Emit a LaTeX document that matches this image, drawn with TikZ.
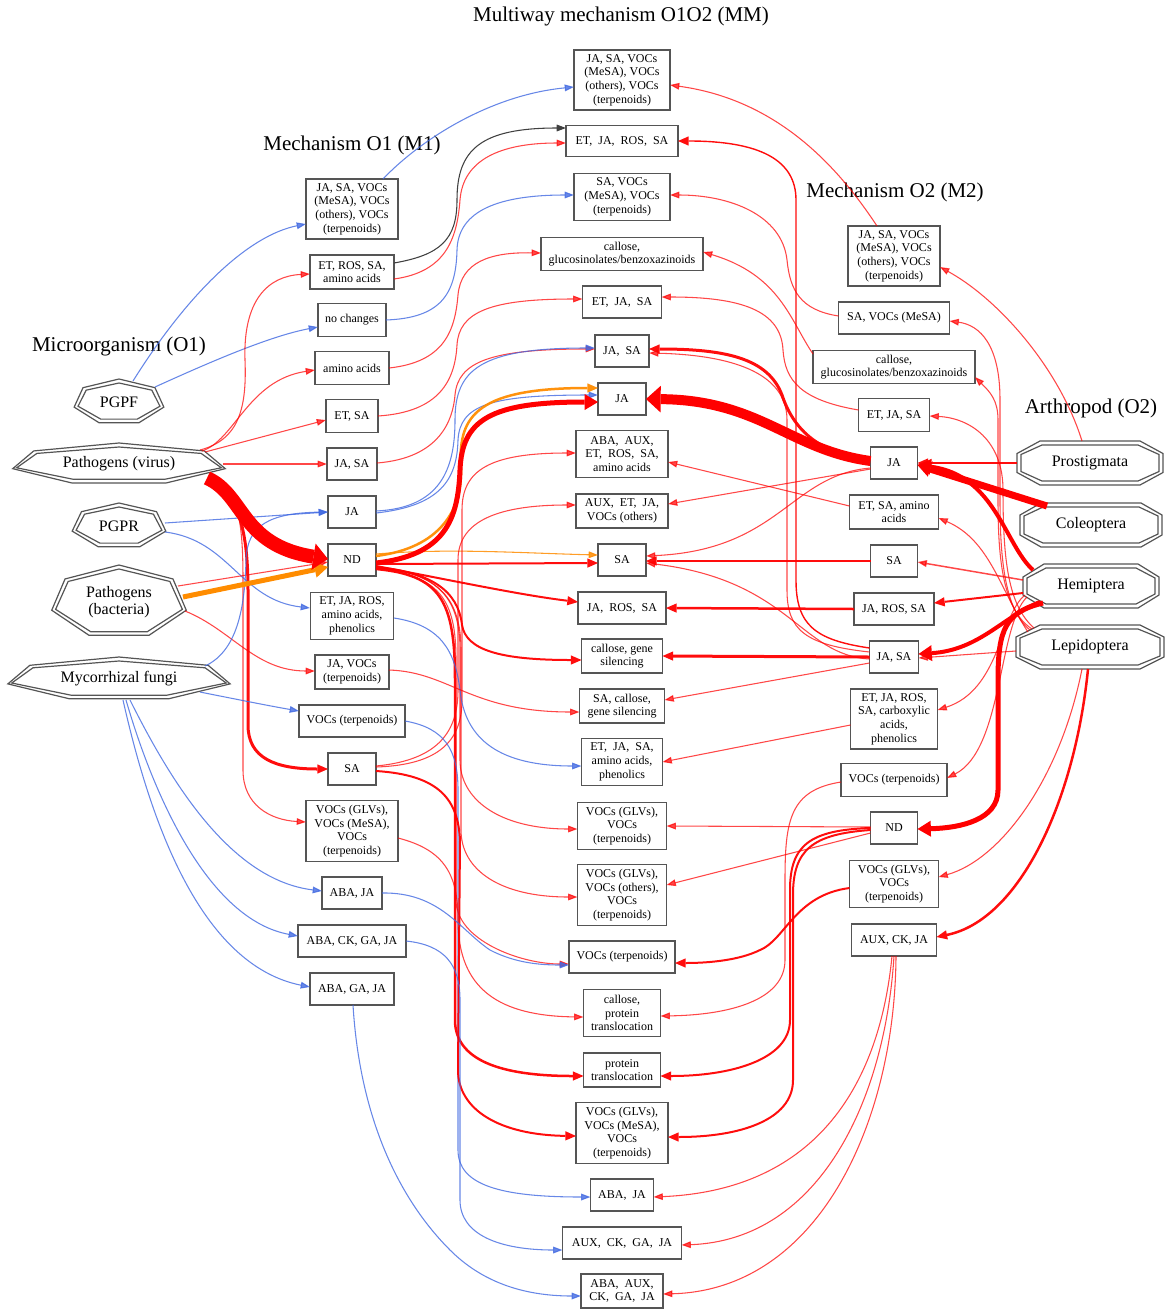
\documentclass[tikz,border=0pt]{standalone}
\usepackage{fontspec}
\setmainfont{Liberation Serif}
\usetikzlibrary{arrows.meta,calc}
\definecolor{edgered}{RGB}{255,0,0}
\definecolor{edgeblue}{RGB}{65,105,225}
\definecolor{edgeorange}{RGB}{255,140,0}
\definecolor{boxline}{RGB}{85,85,85}
\newcommand\boxfont{\fontsize{9}{10.3}\selectfont}
\newcommand\orgfont{\fontsize{12}{13}\selectfont}
\newcommand\titlefont{\fontsize{15.75}{18}\selectfont}
\newcommand\wsp{\ \ }% wide gap between abbreviations
% double heptagon around a named node: #1 name, #2 rx, #3 ry
\newcommand\drawhepta[3]{%
  \foreach \g in {0,4}{%
    \draw[orgline] ($(#1)+(0,{-(#3-\g)})$)
      -- ($(#1)+({0.782*(#2-\g)},{-0.623*(#3-\g)})$)
      -- ($(#1)+({0.975*(#2-\g)},{0.2225*(#3-\g)})$)
      -- ($(#1)+({0.434*(#2-\g)},{0.901*(#3-\g)})$)
      -- ($(#1)+({-0.434*(#2-\g)},{0.901*(#3-\g)})$)
      -- ($(#1)+({-0.975*(#2-\g)},{0.2225*(#3-\g)})$)
      -- ($(#1)+({-0.782*(#2-\g)},{-0.623*(#3-\g)})$) -- cycle;
  }}
% double octagon: #1 name, #2 rx, #3 ry, #4 half top edge, #5 half side edge
\newcommand\drawocto[5]{%
  \foreach \g in {0,4}{%
    \draw[orgline] ($(#1)+({-(#4-\g/2)},{-(#3-\g)})$)
      -- ($(#1)+({#4-\g/2},{-(#3-\g)})$)
      -- ($(#1)+({#2-\g},{-(#5-\g/4)})$)
      -- ($(#1)+({#2-\g},{#5-\g/4})$)
      -- ($(#1)+({#4-\g/2},{#3-\g})$)
      -- ($(#1)+({-(#4-\g/2)},{#3-\g})$)
      -- ($(#1)+({-(#2-\g)},{#5-\g/4})$)
      -- ($(#1)+({-(#2-\g)},{-(#5-\g/4)})$) -- cycle;
  }}
\begin{document}
\begin{tikzpicture}[x=0.75pt,y=-0.75pt,
  box/.style={draw=boxline, line width=1pt, fill=white, inner sep=0pt, align=center, font=\boxfont},
  sz/.style 2 args={minimum width=#1*0.75pt, minimum height=#2*0.75pt},
  org/.style={inner sep=0pt, align=center, font=\orgfont},
  ttl/.style={inner sep=0pt, font=\titlefont},
  orgline/.style={draw=boxline, line width=0.9pt},
  lw/.style={line width=#1*0.75pt},
  edge/.style={line width=0.8pt, -{Triangle[length=7pt,width=5pt]}},
  ered/.style={edge, draw=edgered, opacity=0.72},
  eblue/.style={edge, draw=edgeblue, opacity=0.8},
  eorange/.style={edge, draw=edgeorange, opacity=0.85},
  eblack/.style={edge, draw=black!75},
  tipm/.style={-{Triangle[length=8pt,width=7pt,line width=0pt]}, opacity=0.95},
  tipl/.style={-{Triangle[length=10pt,width=12pt,line width=0pt]}, opacity=1},
  tipxl/.style={-{Triangle[length=11pt,width=20pt,line width=0pt]}, opacity=1}]
\useasboundingbox (0,0) rectangle (1164,1310);

% titles
\node[ttl] (tmm) at (621,16) {Multiway mechanism O1O2 (MM)};
\node[ttl] (tm1) at (352,145) {Mechanism O1 (M1)};
\node[ttl] (tm2) at (895,192) {Mechanism O2 (M2)};
\node[ttl] (to1) at (119,346) {Microorganism (O1)};
\node[ttl] (to2) at (1091,408) {Arthropod (O2)};

% organisms O1
\node[org] (pgpf) at (119,402) {PGPF};
\node[org] (virus) at (119,464) {Pathogens (virus)};
\node[org] (pgpr) at (119,526) {PGPR};
\node[org] (bact) at (119,602) {Pathogens\\(bacteria)};
\node[org] (fungi) at (119,679) {Mycorrhizal fungi};
\drawhepta{pgpf}{46}{23}
\drawhepta{virus}{109}{21}
\drawhepta{pgpr}{48}{23}
\drawhepta{bact}{69}{37}
\drawhepta{fungi}{114}{22}

% organisms O2
\node[org] (prost) at (1090,463) {Prostigmata};
\node[org] (coleo) at (1091,525) {Coleoptera};
\node[org] (hemi) at (1091,586) {Hemiptera};
\node[org] (lepi) at (1090,647) {Lepidoptera};
\drawocto{prost}{73}{22}{50}{9.5}
\drawocto{coleo}{71}{22}{50}{10}
\drawocto{hemi}{68}{22}{47}{9}
\drawocto{lepi}{74}{22}{50}{10}

% mechanisms M1
\node[box, sz={92}{60}] (m1a) at (352,209) {JA, SA, VOCs\\(MeSA), VOCs\\(others), VOCs\\(terpenoids)};
\node[box, sz={84}{34}] (m1b) at (352,272) {ET, ROS, SA,\\amino acids};
\node[box, sz={68}{33}] (m1c) at (352,320) {no changes};
\node[box, sz={74}{33}] (m1d) at (352,368) {amino acids};
\node[box, sz={52}{33}] (m1e) at (352,416) {ET, SA};
\node[box, sz={50}{32}] (m1f) at (352,464) {JA, SA};
\node[box, sz={48}{32}] (m1g) at (352,512) {JA};
\node[box, sz={48}{32}] (m1h) at (352,560) {ND};
\node[box, sz={83}{47}] (m1i) at (352,616) {ET, JA, ROS,\\amino acids,\\phenolics};
\node[box, sz={74}{34}] (m1j) at (352,672) {JA, VOCs\\(terpenoids)};
\node[box, sz={106}{32}] (m1k) at (352,721) {VOCs (terpenoids)};
\node[box, sz={48}{32}] (m1l) at (352,769) {SA};
\node[box, sz={92}{61}] (m1m) at (352,831) {VOCs (GLVs),\\VOCs (MeSA),\\VOCs\\(terpenoids)};
\node[box, sz={60}{32}] (m1n) at (352,893) {ABA, JA};
\node[box, sz={108}{32}] (m1o) at (352,941) {ABA, CK, GA, JA};
\node[box, sz={84}{32}] (m1p) at (352,989) {ABA, GA, JA};

% mechanisms MM
\node[box, sz={96}{60}] (mm1) at (622,80) {JA, SA, VOCs\\(MeSA), VOCs\\(others), VOCs\\(terpenoids)};
\node[box, sz={112}{31}] (mm2) at (622,141) {ET,\wsp JA,\wsp ROS,\wsp SA};
\node[box, sz={96}{47}] (mm3) at (622,197) {SA, VOCs\\(MeSA), VOCs\\(terpenoids)};
\node[box, sz={162}{33}] (mm4) at (622,254) {callose,\\glucosinolates/benzoxazinoids};
\node[box, sz={79}{32}] (mm5) at (622,302) {ET,\wsp JA,\wsp SA};
\node[box, sz={54}{32}] (mm6) at (622,351) {JA,\wsp SA};
\node[box, sz={48}{32}] (mm7) at (622,399) {JA};
\node[box, sz={92}{47}] (mm8) at (622,454) {ABA,\wsp AUX,\\ET,\wsp ROS,\wsp SA,\\amino acids};
\node[box, sz={92}{34}] (mm9) at (622,511) {AUX,\wsp ET,\wsp JA,\\VOCs (others)};
\node[box, sz={48}{32}] (mm10) at (622,560) {SA};
\node[box, sz={88}{32}] (mm11) at (622,608) {JA,\wsp ROS,\wsp SA};
\node[box, sz={81}{34}] (mm12) at (622,656) {callose, gene\\silencing};
\node[box, sz={85}{34}] (mm13) at (622,706) {SA, callose,\\gene silencing};
\node[box, sz={81}{47}] (mm14) at (622,762) {ET,\wsp JA,\wsp SA,\\amino acids,\\phenolics};
\node[box, sz={89}{47}] (mm15) at (622,826) {VOCs (GLVs),\\VOCs\\(terpenoids)};
\node[box, sz={89}{61}] (mm16) at (622,895) {VOCs (GLVs),\\VOCs (others),\\VOCs\\(terpenoids)};
\node[box, sz={106}{32}] (mm17) at (622,957) {VOCs (terpenoids)};
\node[box, sz={77}{47}] (mm18) at (622,1013) {callose,\\protein\\translocation};
\node[box, sz={77}{34}] (mm19) at (622,1070) {protein\\translocation};
\node[box, sz={92}{61}] (mm20) at (622,1133) {VOCs (GLVs),\\VOCs (MeSA),\\VOCs\\(terpenoids)};
\node[box, sz={63}{32}] (mm21) at (622,1195) {ABA,\wsp JA};
\node[box, sz={119}{32}] (mm22) at (622,1243) {AUX,\wsp CK,\wsp GA,\wsp JA};
\node[box, sz={82}{34}] (mm23) at (622,1291) {ABA,\wsp AUX,\\CK,\wsp GA,\wsp JA};

% mechanisms M2
\node[box, sz={92}{60}] (m2a) at (894,256) {JA, SA, VOCs\\(MeSA), VOCs\\(others), VOCs\\(terpenoids)};
\node[box, sz={111}{32}] (m2b) at (894,318) {SA, VOCs (MeSA)};
\node[box, sz={162}{33}] (m2c) at (894,367) {callose,\\glucosinolates/benzoxazinoids};
\node[box, sz={71}{33}] (m2d) at (894,415) {ET, JA, SA};
\node[box, sz={47}{32}] (m2e) at (894,463) {JA};
\node[box, sz={89}{34}] (m2f) at (894,512) {ET, SA, amino\\acids};
\node[box, sz={47}{32}] (m2g) at (894,561) {SA};
\node[box, sz={80}{32}] (m2h) at (894,609) {JA, ROS, SA};
\node[box, sz={49}{32}] (m2i) at (894,657) {JA, SA};
\node[box, sz={87}{60}] (m2j) at (894,719) {ET, JA, ROS,\\SA, carboxylic\\acids,\\phenolics};
\node[box, sz={106}{33}] (m2k) at (894,780) {VOCs (terpenoids)};
\node[box, sz={47}{32}] (m2l) at (894,828) {ND};
\node[box, sz={89}{47}] (m2m) at (894,884) {VOCs (GLVs),\\VOCs\\(terpenoids)};
\node[box, sz={85}{32}] (m2n) at (894,940) {AUX, CK, JA};

% ---------- O1 -> M1 ----------
\draw[eblue] ($(pgpf)+(14,-21)$) .. controls (190,290) and (250,235) .. ($(m1a)+(-46,15)$);
\draw[eblue] ($(pgpf)+(36,-15)$) .. controls (210,362) and (270,336) .. ($(m1c)+(-34,7)$);
\draw[ered] ($(virus)+(81,-14)$) .. controls (238,440) and (247,410) .. (245,360) .. controls (243,300) and (268,276) .. ($(m1b)+(-42,2)$);
\draw[ered] ($(virus)+(83,-13)$) .. controls (235,440) and (248,380) .. ($(m1d)+(-37,2)$);
\draw[ered] ($(virus)+(86,-12)$) -- ($(m1e)+(-26,4)$);
\draw[ered] ($(virus)+(104,0)$) -- ($(m1f)+(-25,0)$);
\draw[ered] ($(virus)+(92,12)$) .. controls (238,490) and (243,520) .. (243,580) -- (243,770) .. controls (243,805) and (270,820) .. ($(m1m)+(-46,-9)$);
\draw[ered, lw=3, tipm] ($(virus)+(92,14)$) .. controls (238,495) and (248,530) .. (248,590) -- (248,725) .. controls (248,758) and (275,769) .. ($(m1l)+(-24,0)$);
\draw[eblue] ($(pgpr)+(46,-3)$) -- ($(m1g)+(-24,0)$);
\draw[eblue] ($(pgpr)+(46,6)$) .. controls (230,540) and (240,600) .. ($(m1i)+(-42,-8)$);
\draw[ered] ($(bact)+(59,-16)$) -- ($(m1h)+(-24,2)$);
\draw[ered] ($(bact)+(66,9)$) .. controls (232,630) and (255,671) .. ($(m1j)+(-37,-1)$);
\draw[eblue] ($(fungi)+(86,-13)$) .. controls (240,650) and (245,600) .. (246,560) .. controls (247,525) and (270,513) .. ($(m1g)+(-24,0)$);
\draw[eblue] ($(fungi)+(81,13)$) .. controls (240,700) and (270,706) .. ($(m1k)+(-53,-10)$);
\draw[eblue] ($(fungi)+(11,21)$) .. controls (170,780) and (230,880) .. ($(m1n)+(-30,-2)$);
\draw[eblue] ($(fungi)+(7,21)$) .. controls (155,800) and (210,920) .. ($(m1o)+(-54,-5)$);
\draw[eblue] ($(fungi)+(4,21)$) .. controls (150,820) and (200,965) .. ($(m1p)+(-42,-2)$);
\draw[eorange, lw=5, tipl] ($(bact)+(64,-5)$) -- ($(m1h)+(-24,7)$);
\draw[ered, lw=14, tipxl] ($(virus)+(88,14)$) .. controls (245,495) and (240,545) .. ($(m1h)+(-24,-1)$);

% ---------- M1 -> MM ----------
\draw[eblue] ($(m1a)+(31,-30)$) .. controls (420,140) and (490,95) .. ($(mm1)+(-48,7)$);
\draw[eblack] ($(m1b)+(42,-9)$) .. controls (440,255) and (457,240) .. (457,200) .. controls (457,150) and (480,128) .. ($(mm2)+(-56,-13)$);
\draw[ered] ($(m1b)+(42,7)$) .. controls (445,272) and (457,240) .. (460,200) .. controls (463,160) and (500,143) .. ($(mm2)+(-56,2)$);
\draw[eblue] ($(m1c)+(34,0)$) .. controls (440,318) and (456,295) .. (457,250) .. controls (458,215) and (490,195) .. ($(mm3)+(-48,-2)$);
\draw[ered] ($(m1d)+(37,0)$) .. controls (445,362) and (455,330) .. (458,295) .. controls (461,262) and (490,252) .. ($(mm4)+(-81,-1)$);
\draw[ered] ($(m1e)+(26,0)$) .. controls (440,412) and (455,380) .. (457,345) .. controls (459,312) and (490,299) .. ($(mm5)+(-39.5,-3)$);
\draw[ered] ($(m1f)+(25,-1)$) .. controls (440,458) and (453,420) .. (455,395) .. controls (458,362) and (490,349) .. ($(mm6)+(-27,-2)$);
\draw[eblue] ($(m1g)+(24,-1)$) .. controls (440,508) and (455,470) .. (455,420) .. controls (455,370) and (480,348) .. ($(mm6)+(-27,-3)$);
\draw[eblue] ($(m1g)+(24,1)$) .. controls (440,506) and (457,480) .. (458,440) .. controls (460,405) and (490,395) .. ($(mm7)+(-24,-4)$);
\draw[eorange] ($(m1h)+(24,-6)$) .. controls (450,548) and (520,553) .. ($(mm10)+(-24,-5)$);
\draw[ered, lw=2, tipm] ($(m1h)+(24,4)$) -- ($(mm10)+(-24,3)$);
\draw[ered, lw=2, tipm] ($(m1h)+(24,6)$) .. controls (450,580) and (520,595) .. ($(mm11)+(-44,-6)$);
\draw[ered, lw=2, tipm] ($(m1h)+(24,7)$) .. controls (430,572) and (458,590) .. (462,625) .. controls (466,650) and (500,660) .. ($(mm12)+(-40.5,4)$);
\draw[ered] ($(m1h)+(24,8)$) .. controls (440,572) and (460,600) .. (460,650) -- (460,760) .. controls (460,800) and (500,829) .. ($(mm15)+(-44.5,3)$);
\draw[ered] ($(m1h)+(24,8)$) .. controls (440,572) and (461,600) .. (461,650) -- (461,830) .. controls (461,870) and (500,897) .. ($(mm16)+(-44.5,2)$);
\draw[ered] ($(m1h)+(24,9)$) .. controls (440,575) and (456,600) .. (456,660) -- (456,900) .. controls (456,940) and (520,964) .. ($(mm17)+(-53,7)$);
\draw[ered, lw=2.5, tipm] ($(m1h)+(24,9)$) .. controls (440,575) and (455,600) .. (455,680) -- (455,1020) .. controls (455,1060) and (500,1076) .. ($(mm19)+(-38.5,6)$);
\draw[ered] ($(m1l)+(24,-2)$) .. controls (440,765) and (462,740) .. (462,700) -- (462,510) .. controls (462,470) and (490,453) .. ($(mm8)+(-46,-1)$);
\draw[ered] ($(m1l)+(24,-3)$) .. controls (440,760) and (458,730) .. (458,690) -- (458,560) .. controls (458,525) and (490,505) .. ($(mm9)+(-46,-6)$);
\draw[eblue] ($(m1i)+(42,2)$) .. controls (440,625) and (455,650) .. (460,690) .. controls (465,740) and (500,766) .. ($(mm14)+(-40.5,4)$);
\draw[ered] ($(m1j)+(37,-2)$) .. controls (450,672) and (470,712) .. ($(mm13)+(-42.5,6)$);
\draw[eblue] ($(m1k)+(53,0)$) .. controls (445,728) and (458,750) .. (458,790) -- (458,1150) .. controls (458,1185) and (500,1197) .. ($(mm21)+(-31.5,2)$);
\draw[ered, lw=2, tipm] ($(m1l)+(24,2)$) .. controls (440,775) and (458,800) .. (460,840) -- (458,1070) .. controls (458,1110) and (500,1135) .. ($(mm20)+(-46,3)$);
\draw[ered] ($(m1m)+(46,7)$) .. controls (445,850) and (458,875) .. (458,920) .. controls (458,990) and (500,1016) .. ($(mm18)+(-38.5,4)$);
\draw[eblue] ($(m1n)+(30,0)$) .. controls (440,892) and (460,930) .. (490,950) .. controls (515,963) and (540,965) .. ($(mm17)+(-53,8)$);
\draw[eblue] ($(m1o)+(54,0)$) .. controls (445,945) and (460,965) .. (460,1000) -- (460,1200) .. controls (460,1235) and (500,1250) .. ($(mm22)+(-59.5,7)$);
\draw[eblue] ($(m1p)+(1,16)$) .. controls (360,1120) and (400,1200) .. (450,1250) .. controls (480,1280) and (520,1296) .. ($(mm23)+(-41,5)$);
\draw[eorange, lw=2.5, tipm] ($(m1h)+(24,-4)$) .. controls (440,548) and (462,510) .. (461,470) .. controls (458,420) and (470,388) .. ($(mm7)+(-24,-11)$);
\draw[ered, lw=5, tipl] ($(m1h)+(24,3)$) .. controls (445,555) and (458,520) .. (460,470) .. controls (462,420) and (490,402) .. ($(mm7)+(-24,3)$);

% ---------- M2 -> MM ----------
\draw[ered] ($(m2a)+(-17,-30)$) .. controls (840,170) and (780,100) .. ($(mm1)+(48,5)$);
\draw[ered] ($(m2b)+(-55.5,-2)$) .. controls (800,310) and (790,290) .. (787,260) .. controls (782,215) and (730,195) .. ($(mm3)+(48,-2)$);
\draw[ered] ($(m2c)+(-81,-13)$) .. controls (790,320) and (780,275) .. ($(mm4)+(81,-2)$);
\draw[ered] ($(m2d)+(-35.5,-5)$) .. controls (800,400) and (785,380) .. (783,350) .. controls (781,310) and (740,297) .. ($(mm5)+(39.5,-5)$);
\draw[ered, lw=1.4, tipm] ($(m2i)+(-24.5,-9)$) .. controls (815,640) and (796,625) .. (796,580) -- (796,200) .. controls (796,160) and (760,141) .. ($(mm2)+(56,0)$);
\draw[ered] ($(m2i)+(-24.5,-5)$) .. controls (805,645) and (787,630) .. (787,590) -- (787,420) .. controls (787,372) and (730,355) .. ($(mm6)+(27,2)$);
\draw[ered] ($(m2f)+(-44.5,-6)$) -- ($(mm8)+(46,8)$);
\draw[ered] ($(m2e)+(-23.5,6)$) -- ($(mm9)+(46,-7)$);
\draw[ered] ($(m2e)+(-23.5,5)$) .. controls (790,475) and (780,550) .. ($(mm10)+(24,-4)$);
\draw[ered, lw=2, tipm] ($(m2g)+(-23.5,0)$) -- ($(mm10)+(24,1)$);
\draw[ered] ($(m2i)+(-24.5,2)$) .. controls (800,655) and (790,580) .. ($(mm10)+(24,3)$);
\draw[ered, lw=2.5, tipm] ($(m2h)+(-40,0)$) -- ($(mm11)+(44,0)$);
\draw[ered, lw=3, tipm] ($(m2i)+(-24.5,0)$) -- ($(mm12)+(40.5,0)$);
\draw[ered] ($(m2i)+(-24.5,6)$) -- ($(mm13)+(42.5,-6)$);
\draw[ered] ($(m2j)+(-43.5,6)$) -- ($(mm14)+(40.5,0)$);
\draw[ered] ($(m2l)+(-23.5,-1)$) -- ($(mm15)+(44.5,0)$);
\draw[ered] ($(m2l)+(-23.5,5)$) -- ($(mm16)+(44.5,-10)$);
\draw[ered, lw=2, tipm] ($(m2m)+(-44.5,4)$) .. controls (795,895) and (785,940) .. (760,950) .. controls (740,960) and (710,963) .. ($(mm17)+(53,6)$);
\draw[ered] ($(m2k)+(-53,2)$) .. controls (790,790) and (785,820) .. (785,880) -- (785,960) .. controls (785,1000) and (730,1015) .. ($(mm18)+(38.5,3)$);
\draw[ered, lw=2, tipm] ($(m2l)+(-23.5,0)$) .. controls (810,830) and (790,845) .. (790,890) -- (790,1020) .. controls (790,1060) and (730,1076) .. ($(mm19)+(38.5,6)$);
\draw[ered, lw=2, tipm] ($(m2l)+(-23.5,2)$) .. controls (812,834) and (793,850) .. (793,895) -- (793,1080) .. controls (793,1120) and (740,1137) .. ($(mm20)+(46,4)$);
\draw[ered] ($(m2n)+(-2,16)$) .. controls (880,1080) and (820,1190) .. ($(mm21)+(31.5,2)$);
\draw[ered] ($(m2n)+(0,16)$) .. controls (885,1100) and (820,1240) .. ($(mm22)+(59.5,2)$);
\draw[ered] ($(m2n)+(2,16)$) .. controls (895,1120) and (820,1290) .. ($(mm23)+(41,3)$);
\draw[ered, lw=3, tipm] ($(m2e)+(-23.5,-5)$) .. controls (815,455) and (792,425) .. (782,395) .. controls (768,358) and (725,349) .. ($(mm6)+(27,-2)$);
\draw[ered, lw=10, tipxl] ($(m2e)+(-23.5,-2)$) .. controls (790,450) and (760,400) .. ($(mm7)+(24,0)$);

% ---------- O2 -> M2 ----------
\draw[ered] ($(prost)+(-8,-22)$) .. controls (1060,370) and (1000,300) .. ($(m2a)+(46,11)$);
\draw[ered, lw=2, tipm] ($(prost)+(-73,0)$) -- ($(m2e)+(23.5,0)$);
\draw[ered] ($(lepi)+(-60,-17)$) .. controls (1005,610) and (1000,560) .. (1000,500) -- (1000,400) .. controls (1000,345) and (980,325) .. ($(m2b)+(55.5,3)$);
\draw[ered] ($(lepi)+(-58,-18)$) .. controls (1003,610) and (998,560) .. (998,500) -- (998,420) .. controls (998,400) and (990,392) .. ($(m2c)+(81,10)$);
\draw[ered] ($(lepi)+(-56,-19)$) .. controls (1008,605) and (1003,560) .. (1003,490) .. controls (1003,440) and (970,418) .. ($(m2d)+(35.5,1)$);
\draw[ered] ($(lepi)+(-62,-15)$) .. controls (1000,590) and (990,540) .. ($(m2f)+(44.5,6)$);
\draw[ered, lw=1.5] ($(hemi)+(-68,-6)$) -- ($(m2g)+(23.5,1)$);
\draw[ered, lw=2, tipm] ($(hemi)+(-68,7)$) -- ($(m2h)+(40,-6)$);
\draw[ered] ($(lepi)+(-74,4)$) -- ($(m2i)+(24.5,1)$);
\draw[ered] ($(hemi)+(-66,9)$) .. controls (1000,615) and (1000,690) .. ($(m2j)+(43.5,-9)$);
\draw[ered] ($(hemi)+(-64,11)$) .. controls (998,625) and (1003,750) .. ($(m2k)+(53,-2)$);
\draw[ered] ($(lepi)+(-8,22)$) .. controls (1060,780) and (1000,860) .. ($(m2m)+(44.5,-7)$);
\draw[ered, lw=2.5, tipm] ($(lepi)+(-2,22)$) .. controls (1075,800) and (1020,920) .. ($(m2n)+(42.5,-3)$);
\draw[ered, lw=4, tipl] ($(hemi)+(-58,-16)$) .. controls (1005,545) and (995,475) .. ($(m2e)+(23.5,2)$);
\draw[ered, lw=4, tipl] ($(hemi)+(-51,16)$) .. controls (1005,615) and (980,650) .. ($(m2i)+(24.5,-3)$);
\draw[ered, lw=5, tipl] ($(hemi)+(-48,17)$) .. controls (1005,612) and (998,630) .. (998,680) -- (998,790) .. controls (998,820) and (960,828) .. ($(m2l)+(23.5,1)$);
\draw[ered, lw=7, tipl] ($(coleo)+(-44,-19)$) -- ($(m2e)+(23.5,2)$);
\end{tikzpicture}
\end{document}
